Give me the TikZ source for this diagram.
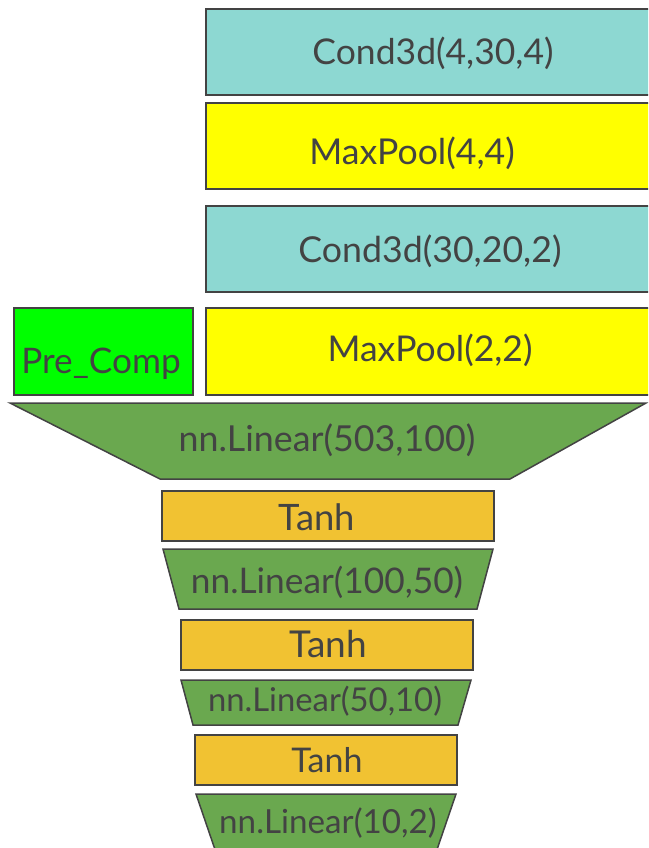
\documentclass[tikz,border=0pt]{standalone}
\usepackage{fontspec}
\setmainfont{Lato}
\definecolor{tealc}{HTML}{8DD8D2}
\definecolor{yel}{HTML}{FFFF00}
\definecolor{grn}{HTML}{00FF00}
\definecolor{dgrn}{HTML}{6AA84F}
\definecolor{gold}{HTML}{F1C232}
\definecolor{ink}{HTML}{434343}
\newcommand{\fsz}[1]{\fontsize{#1}{#1}\selectfont}
\tikzset{
  box/.style={draw=ink, line width=1.5pt},
  lbl/.style={text=ink, anchor=base, inner sep=0pt}
}
\begin{document}
\begin{tikzpicture}[x=1pt,y=-1pt]
\useasboundingbox (0,0) rectangle (648,848);
\clip (0,0) rectangle (648,848);
% upper blocks
\draw[box, fill=tealc] (206,9) rectangle (690,95);
\draw[box, fill=yel] (206,103) rectangle (690,189);
\draw[box, fill=tealc] (206,206) rectangle (690,292);
\draw[box, fill=yel] (206,308) rectangle (690,395);
\draw[box, fill=grn] (14,308) rectangle (193,395);
% funnel
\draw[box, fill=dgrn] (10,403) -- (646,403) -- (510,479) -- (160,479) -- cycle;
\draw[box, fill=gold] (162,491) rectangle (494,541);
\draw[box, fill=dgrn] (163,549) -- (493,549) -- (477,609) -- (179,609) -- cycle;
\draw[box, fill=gold] (181,620) rectangle (473,670);
\draw[box, fill=dgrn] (181,680) -- (471,680) -- (458,725) -- (193,725) -- cycle;
\draw[box, fill=gold] (195,735) rectangle (457,785);
\draw[box, fill=dgrn] (196,794) -- (456,794) -- (430,870) -- (222,870) -- cycle;
% labels
\node[lbl, font=\fsz{35.5}] (c1) at (433,65) {Cond3d(4,30,4)};
\node[lbl, font=\fsz{35.6}] (m1) at (412,164) {MaxPool(4,4)};
\node[lbl, font=\fsz{35.7}] (c2) at (430,262) {Cond3d(30,20,2)};
\node[lbl, font=\fsz{35.5}] (m2) at (430,361) {MaxPool(2,2)};
\node[lbl, font=\fsz{35.2}] (pc) at (101,373) {Pre\_Comp};
\node[lbl, font=\fsz{35.8}] (l1) at (327,451) {nn.Linear(503,100)};
\node[lbl, font=\fsz{36.4}] (t1) at (317,530) {Tanh};
\node[lbl, font=\fsz{35.3}] (l2) at (327,593) {nn.Linear(100,50)};
\node[lbl, font=\fsz{37}] (t2) at (328,657) {Tanh};
\node[lbl, font=\fsz{32.8}] (l3) at (325,711) {nn.Linear(50,10)};
\node[lbl, font=\fsz{34}] (t3) at (327,772) {Tanh};
\node[lbl, font=\fsz{33.2}] (l4) at (328,833) {nn.Linear(10,2)};
\end{tikzpicture}
\end{document}
